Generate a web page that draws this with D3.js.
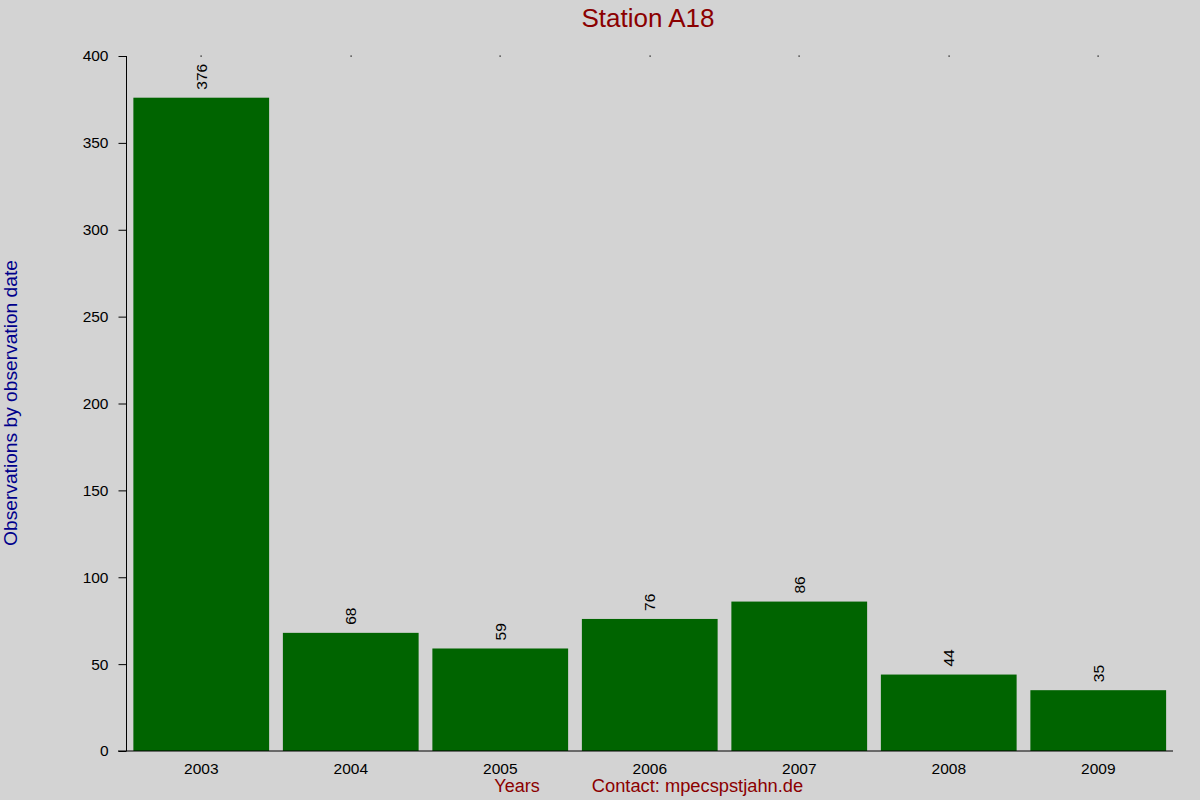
<!DOCTYPE html>
<html><head><meta charset="utf-8">
<script src="https://cdn.jsdelivr.net/npm/d3@7/dist/d3.min.js"></script>
<style>
html,body{margin:0;padding:0;background:#d3d3d3;}
text{font-family:"Liberation Sans",Arial,sans-serif;}
</style></head>
<body>
<svg id="chart" width="1200" height="800"></svg>
<script>
const years = ["2003","2004","2005","2006","2007","2008","2009"];
const counts = [376, 68, 59, 76, 86, 44, 35];
const yTicks = [0, 50, 100, 150, 200, 250, 300, 350, 400];

const svg = d3.select("#chart");
svg.append("rect").attr("width",1200).attr("height",800).attr("fill","#d3d3d3");

const pLeft = 126.5, pRight = 1173, pTop = 56, pBottom = 751;
const x = d3.scaleBand().domain(years).range([pLeft, pRight]).paddingInner(0.092).paddingOuter(0.046);
const y = d3.scaleLinear().domain([0, 400]).range([pBottom, pTop]);

// bars
svg.append("g").selectAll("rect").data(years).join("rect")
  .attr("x", d => x(d))
  .attr("width", x.bandwidth())
  .attr("y", (d,i) => y(counts[i]))
  .attr("height", (d,i) => pBottom - y(counts[i]))
  .attr("fill", "#006400");

// value labels
svg.append("g").selectAll("text").data(years).join("text")
  .attr("transform", (d,i) => `translate(${x(d)+x.bandwidth()/2},${y(counts[i]) - 8}) rotate(-90)`)
  .attr("dy", "0.35em")
  .attr("text-anchor", "start")
  .attr("font-size", 15.5)
  .attr("fill", "#000")
  .text((d,i) => counts[i]);

// top dots
svg.append("g").selectAll("rect").data(years).join("rect")
  .attr("x", d => Math.round(x(d)+x.bandwidth()/2) - 0.5)
  .attr("y", pTop - 0.5)
  .attr("width", 1.2).attr("height", 1.2)
  .attr("fill", "#000");

// y axis
const yAxis = d3.axisLeft(y).tickValues(yTicks).tickSize(8).tickPadding(10).tickFormat(d3.format("d"));
const gy = svg.append("g").attr("transform", `translate(${pLeft},0)`).call(yAxis);
gy.select(".domain").attr("d", `M0,${pTop}V${pBottom}`).attr("stroke","#000");
gy.selectAll(".tick line").attr("stroke","#000");
gy.selectAll(".tick text").attr("font-size", 15.5).attr("fill","#000").attr("font-family","Liberation Sans, Arial, sans-serif");

// x axis
const xAxis = d3.axisBottom(x).tickSize(0).tickPadding(12);
const gx = svg.append("g").attr("transform", `translate(0,${pBottom})`).call(xAxis);
gx.select(".domain").attr("d", `M118,0H${pRight}`).attr("stroke","#000");
gx.selectAll(".tick text").attr("font-size", 15.5).attr("fill","#000").attr("font-family","Liberation Sans, Arial, sans-serif");

// title
svg.append("text").attr("x", 648).attr("y", 27).attr("text-anchor","middle")
  .attr("font-size", 26).attr("fill","#8b0000").text("Station A18");

// y label
svg.append("text").attr("transform","translate(17,403) rotate(-90)").attr("text-anchor","middle")
  .attr("font-size", 19.2).attr("fill","#00008b").text("Observations by observation date");

// bottom labels
svg.append("text").attr("x", 517).attr("y", 792).attr("text-anchor","middle")
  .attr("font-size", 18).attr("fill","#8b0000").text("Years");
svg.append("text").attr("x", 697.5).attr("y", 792).attr("text-anchor","middle")
  .attr("font-size", 18.3).attr("fill","#8b0000").text("Contact: mpecspstjahn.de");
</script>
</body></html>
